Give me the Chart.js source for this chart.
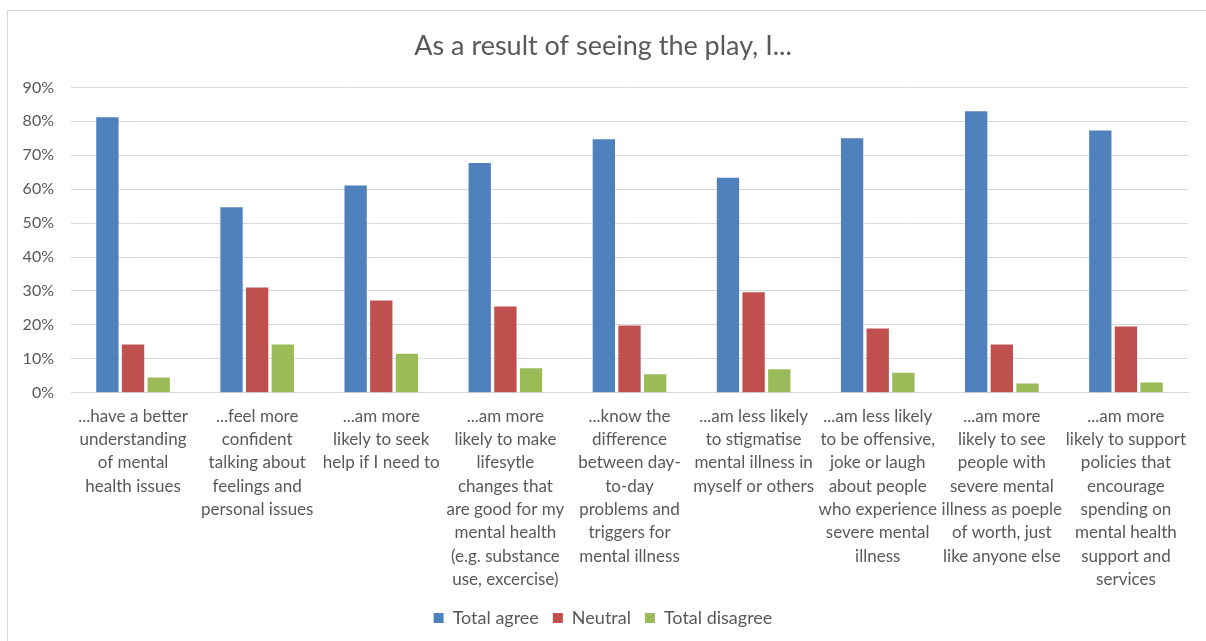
<!DOCTYPE html>
<html>
<head>
<meta charset="utf-8">
<script src="https://cdn.jsdelivr.net/npm/chart.js@4"></script>
<style>
  html, body { margin: 0; padding: 0; background: #ffffff; overflow: hidden; }
  #frame {
    position: absolute;
    left: 7px; top: 10px;
    width: 1214px; height: 640px;
    border: 1px solid #D9D9D9;
    box-sizing: border-box;
  }
  #chart { display: block; }
</style>
</head>
<body>
<div id="frame"><canvas id="chart" width="1212" height="626"></canvas></div>
<script>
// ── Data ────────────────────────────────────────────
const categories = [
  ['...have a better', 'understanding', 'of mental', 'health issues'],
  ['...feel more', 'confident', 'talking about', 'feelings and', 'personal issues'],
  ['...am more', 'likely to seek', 'help if I need to'],
  ['...am more', 'likely to make', 'lifesytle', 'changes that', 'are good for my', 'mental health', '(e.g. substance', 'use, excercise)'],
  ['...know the', 'difference', 'between day-', 'to-day', 'problems and', 'triggers for', 'mental illness'],
  ['...am less likely', 'to stigmatise', 'mental illness in', 'myself or others'],
  ['...am less likely', 'to be offensive,', 'joke or laugh', 'about people', 'who experience', 'severe mental', 'illness'],
  ['...am more', 'likely to see', 'people with', 'severe mental', 'illness as poeple', 'of worth, just', 'like anyone else'],
  ['...am more', 'likely to support', 'policies that', 'encourage', 'spending on', 'mental health', 'support and', 'services']
];
const totalAgree    = [81.2, 54.7, 61.1, 67.7, 74.7, 63.4, 75.0, 83.0, 77.3];
const neutral       = [14.2, 31.0, 27.2, 25.4, 19.8, 29.6, 18.9, 14.2, 19.5];
const totalDisagree = [4.5, 14.2, 11.5, 7.2, 5.4, 6.9, 5.9, 2.7, 3.0];
const yTicks = [0, 10, 20, 30, 40, 50, 60, 70, 80, 90];

const FONT = "Lato, 'Liberation Sans', sans-serif";
const TEXT = '#595959';

new Chart(document.getElementById('chart'), {
  type: 'bar',
  data: {
    labels: categories,
    datasets: [
      { label: 'Total agree', data: totalAgree, backgroundColor: '#4F81BD' },
      { label: 'Neutral', data: neutral, backgroundColor: '#C0504D' },
      { label: 'Total disagree', data: totalDisagree, backgroundColor: '#9BBB59' }
    ]
  },
  options: {
    responsive: false,
    animation: false,
    layout: { padding: { left: 10, right: 32, top: 8, bottom: 0 } },
    datasets: {
      bar: { barPercentage: 0.87, categoryPercentage: 0.62 }
    },
    plugins: {
      title: {
        display: true,
        text: 'As a result of seeing the play, I...',
        color: TEXT,
        font: { family: FONT, size: 27, weight: 'normal' },
        padding: { top: 11, bottom: 25 }
      },
      legend: {
        position: 'bottom',
        labels: {
          color: TEXT,
          font: { family: FONT, size: 18 },
          boxWidth: 10,
          boxHeight: 10,
          padding: 14
        }
      },
      tooltip: { enabled: false }
    },
    scales: {
      x: {
        grid: { display: false },
        border: { color: '#D9D9D9' },
        ticks: {
          color: TEXT,
          font: { family: FONT, size: 17, lineHeight: 1.37 },
          maxRotation: 0,
          autoSkip: false,
          padding: 4
        }
      },
      y: {
        min: 0,
        max: 90,
        afterBuildTicks: (axis) => { axis.ticks = yTicks.map(v => ({ value: v })); },
        afterFit: (axis) => { axis.width = 53; },
        grid: { color: '#D9D9D9', drawTicks: false },
        border: { display: false },
        ticks: {
          color: TEXT,
          font: { family: FONT, size: 16 },
          padding: 17,
          callback: (v) => v + '%'
        }
      }
    }
  }
});
</script>
</body>
</html>
